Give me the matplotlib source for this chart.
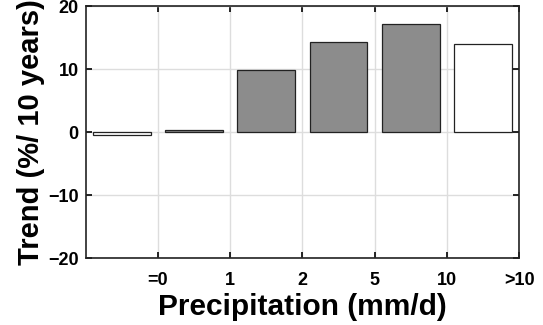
import matplotlib
matplotlib.use("Agg")
import matplotlib.pyplot as plt
import numpy as np

categories = ["=0", "1", "2", "5", "10", ">10"]
trend = [-0.5, 0.3, 9.8, 14.3, 17.1, 14.0]
filled = [False, True, True, True, True, False]

plt.rcParams['font.family'] = ['Liberation Sans', 'DejaVu Sans']
plt.rcParams['font.weight'] = 'bold'

fig = plt.figure(figsize=(5.43, 3.25), dpi=100)
ax = fig.add_axes([0.158, 0.206, 0.798, 0.7755])

x = np.arange(1, len(trend) + 1)
colors = ['#8c8c8c' if f else 'white' for f in filled]
ax.bar(x, trend, width=0.8, color=colors, edgecolor='#222222', linewidth=0.9, zorder=3)

ax.set_xlim(0.5, 6.5)
ax.set_ylim(-20, 20)
ax.set_xticks(x + 0.5)
ax.set_xticklabels(categories)
ax.set_yticks([-20, -10, 0, 10, 20])
ax.grid(True, color='#dddddd', linewidth=1.0, zorder=0)
ax.tick_params(direction='in', top=True, right=True, length=4, width=1.2,
               labelsize=13)
ax.tick_params(axis='x', pad=10)
ax.tick_params(axis='y', pad=5)
for lbl in ax.get_xticklabels() + ax.get_yticklabels():
    lbl.set_fontweight('bold')
for s in ax.spines.values():
    s.set_linewidth(1.2)
    s.set_color('#222222')

ax.set_xlabel("Precipitation (mm/d)", fontsize=21.5, fontweight='bold', labelpad=3)
ax.set_ylabel("Trend (%/ 10 years)", fontsize=21, fontweight='bold', labelpad=2)

fig.savefig("out.png", dpi=100)
